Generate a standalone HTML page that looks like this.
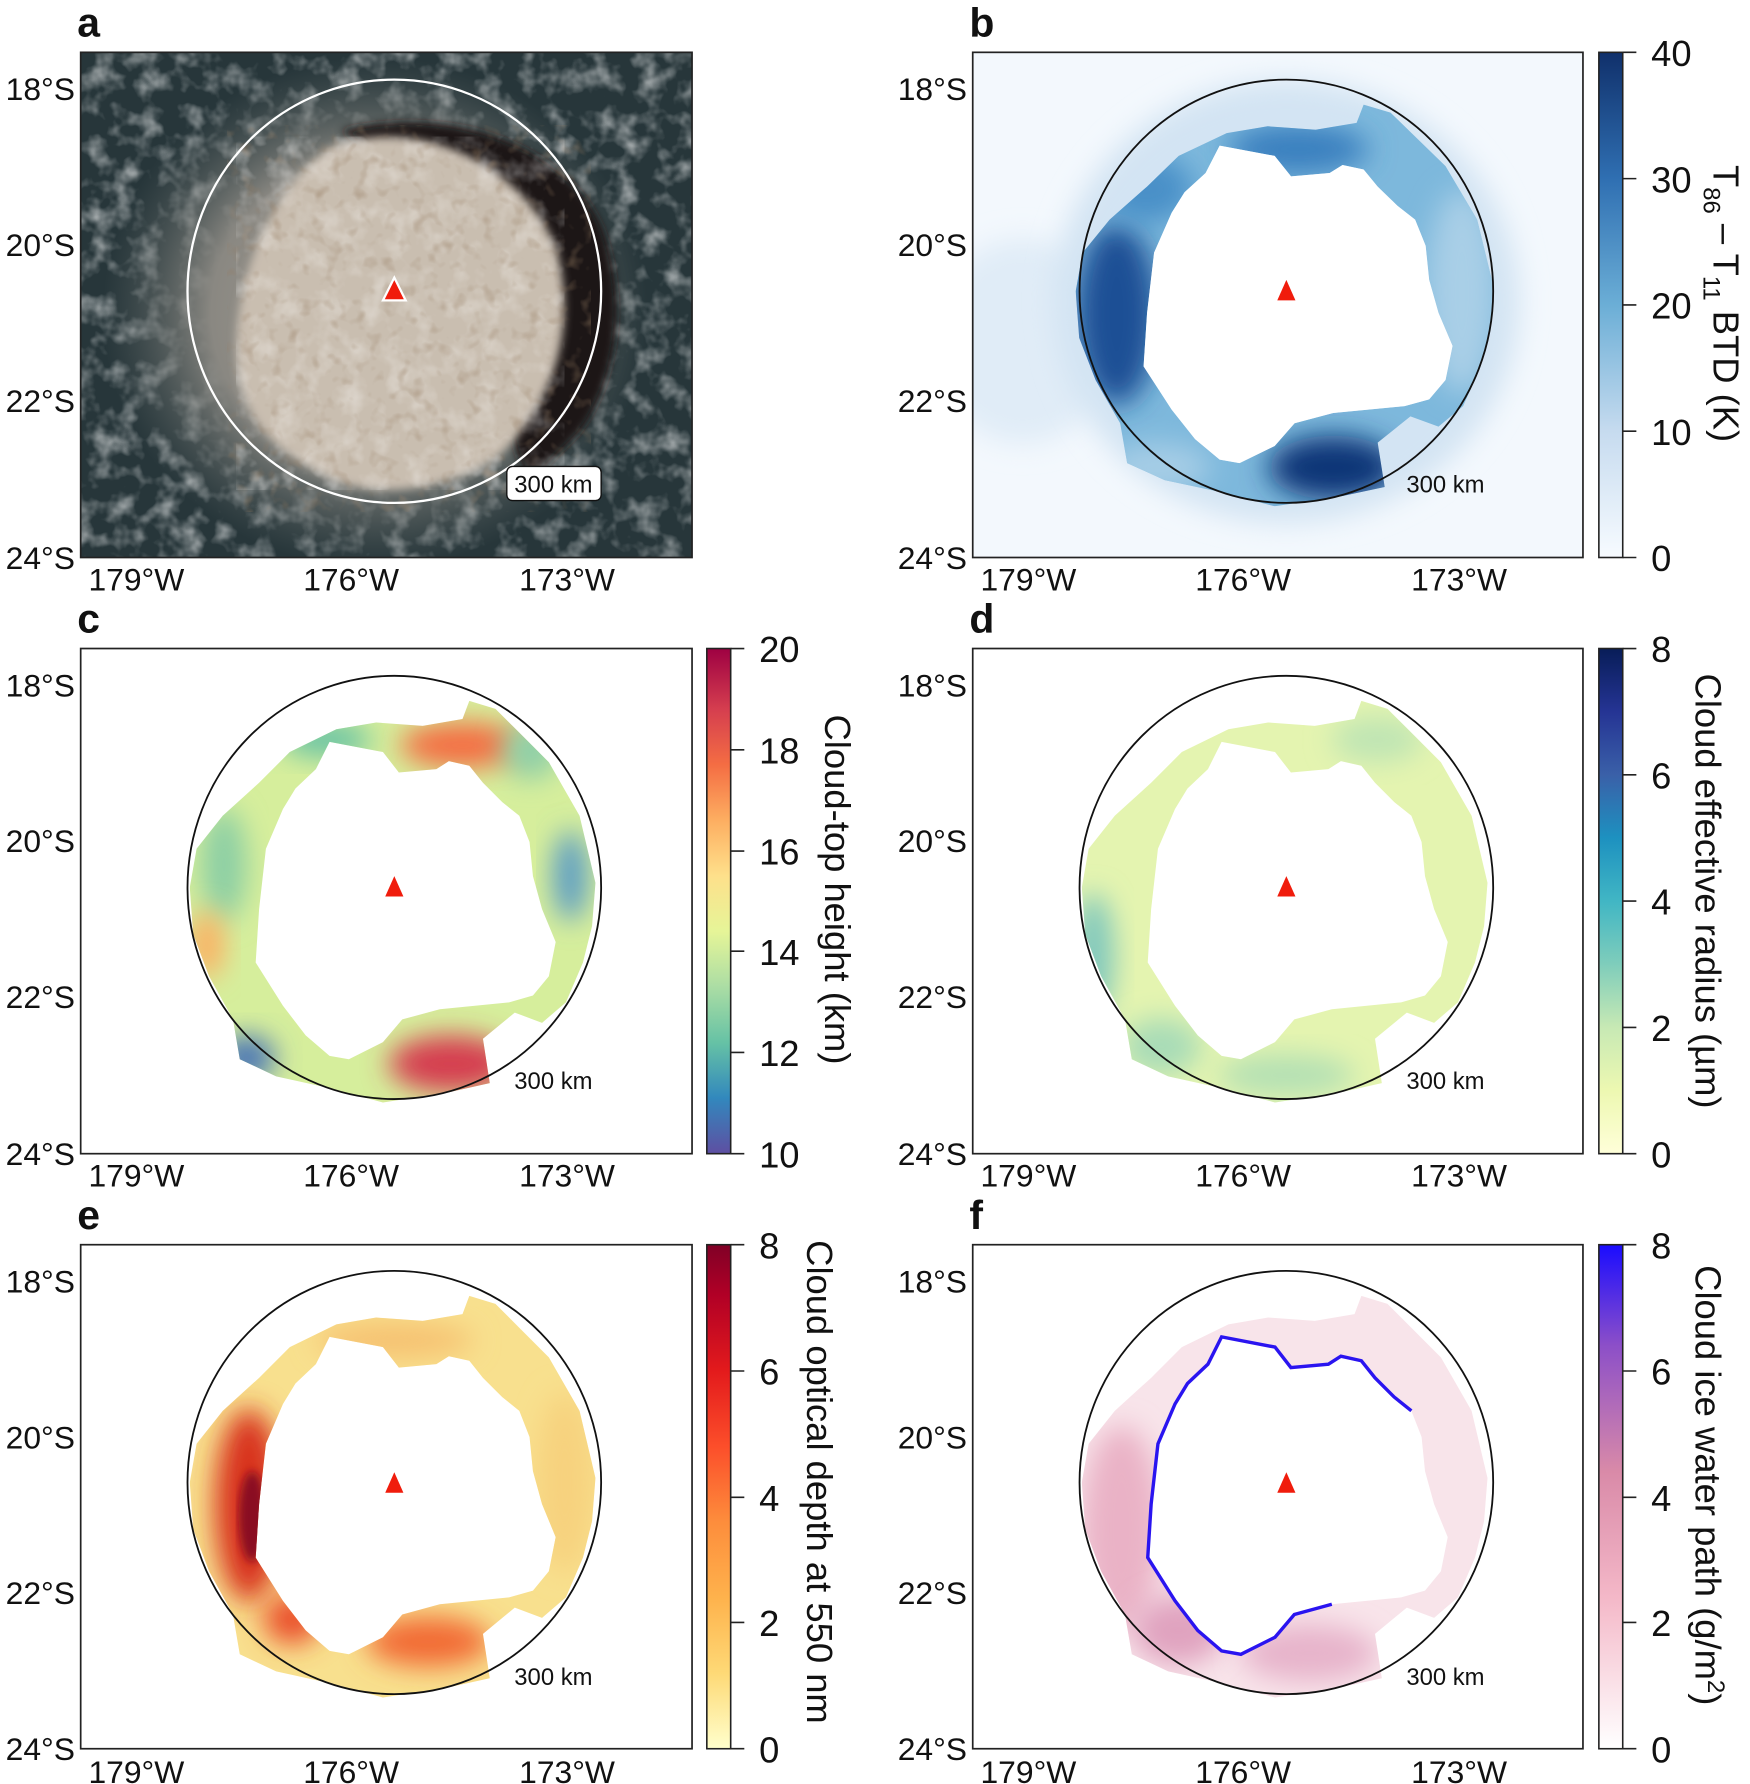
<!DOCTYPE html>
<html><head><meta charset="utf-8"><style>
html,body{margin:0;padding:0;background:#fff}
svg{display:block}
text{font-family:"Liberation Sans",sans-serif;fill:#111}
</style></head><body>
<svg width="1750" height="1784" viewBox="0 0 1540 1568" preserveAspectRatio="none" xmlns="http://www.w3.org/2000/svg">
<defs>
<clipPath id="ring"><path clip-rule="evenodd" d="M-180,0 L-174,-34 L-151,-63 L-119,-92 L-92,-119 L-51,-139 L-16,-145 L25,-142 L60,-148 L66,-164 L89,-157 L107,-139 L136,-110 L163,-63 L177,-4 L174,34 L166,66 L151,101 L130,119 L106,110 L78,133 L84,172 L48,180 L-10,189 L-54,177 L-104,166 L-136,151 L-142,116 L-163,78 L-177,41 Z M-57,-128 L-10,-119 L4,-101 L37,-104 L48,-111 L66,-107 L78,-92 L95,-75 L110,-63 L119,-40 L122,-10 L130,19 L142,48 L136,78 L122,95 L101,101 L40,107 L7,116 L-10,136 L-40,151 L-57,148 L-78,130 L-98,104 L-122,66 L-119,19 L-113,-34 L-98,-69 L-87,-87 L-69,-104 Z"/></clipPath>
<clipPath id="hole"><path d="M-57,-128 L-10,-119 L4,-101 L37,-104 L48,-111 L66,-107 L78,-92 L95,-75 L110,-63 L119,-40 L122,-10 L130,19 L142,48 L136,78 L122,95 L101,101 L40,107 L7,116 L-10,136 L-40,151 L-57,148 L-78,130 L-98,104 L-122,66 L-119,19 L-113,-34 L-98,-69 L-87,-87 L-69,-104 Z"/></clipPath>
<filter id="bl" x="-50%" y="-50%" width="200%" height="200%"><feGaussianBlur stdDeviation="12"/></filter>
<filter id="bl4"><feGaussianBlur stdDeviation="4"/></filter>
<filter id="noise" x="0" y="0" width="100%" height="100%"><feTurbulence type="fractalNoise" baseFrequency="0.05" numOctaves="3" seed="3"/><feColorMatrix values="0 0 0 0 1  0 0 0 0 1  0 0 0 0 1  1.8 0 0 0 -0.8"/></filter>
<filter id="noise2" x="0" y="0" width="100%" height="100%"><feTurbulence type="fractalNoise" baseFrequency="0.08" numOctaves="2" seed="7"/><feColorMatrix values="0 0 0 0 0.3  0 0 0 0 0.2  0 0 0 0 0.12  2 0 0 0 -1.1"/></filter>
<clipPath id="boxa"><rect x="71" y="46" width="538" height="444"/></clipPath>
<clipPath id="boxb"><rect x="856" y="46" width="537" height="444"/></clipPath>
<linearGradient id="gB" x1="0" y1="1" x2="0" y2="0"><stop offset="0" stop-color="#f7fbff"/><stop offset=".25" stop-color="#c6dbef"/><stop offset=".5" stop-color="#6baed6"/><stop offset=".75" stop-color="#2f6fb2"/><stop offset="1" stop-color="#10306b"/></linearGradient>
<linearGradient id="gC" x1="0" y1="1" x2="0" y2="0"><stop offset="0" stop-color="#5e4fa2"/><stop offset=".11" stop-color="#3288bd"/><stop offset=".22" stop-color="#66c2a5"/><stop offset=".33" stop-color="#abdda4"/><stop offset=".44" stop-color="#e6f598"/><stop offset=".55" stop-color="#fee08b"/><stop offset=".66" stop-color="#fdae61"/><stop offset=".77" stop-color="#f46d43"/><stop offset=".88" stop-color="#d53e4f"/><stop offset="1" stop-color="#9e0142"/></linearGradient>
<linearGradient id="gD" x1="0" y1="1" x2="0" y2="0"><stop offset="0" stop-color="#ffffd9"/><stop offset=".125" stop-color="#edf8b1"/><stop offset=".25" stop-color="#c7e9b4"/><stop offset=".375" stop-color="#7fcdbb"/><stop offset=".5" stop-color="#41b6c4"/><stop offset=".625" stop-color="#1d91c0"/><stop offset=".75" stop-color="#3a60a8"/><stop offset=".875" stop-color="#253494"/><stop offset="1" stop-color="#081d58"/></linearGradient>
<linearGradient id="gE" x1="0" y1="1" x2="0" y2="0"><stop offset="0" stop-color="#ffffcc"/><stop offset=".15" stop-color="#fed976"/><stop offset=".3" stop-color="#feb24c"/><stop offset=".45" stop-color="#fd8d3c"/><stop offset=".6" stop-color="#fc4e2a"/><stop offset=".75" stop-color="#e31a1c"/><stop offset=".9" stop-color="#b10026"/><stop offset="1" stop-color="#800026"/></linearGradient>
<linearGradient id="gF" x1="0" y1="1" x2="0" y2="0"><stop offset="0" stop-color="#ffffff"/><stop offset=".3" stop-color="#f4b8c8"/><stop offset=".55" stop-color="#d98aa8"/><stop offset=".8" stop-color="#8c4fc8"/><stop offset="1" stop-color="#1a0cff"/></linearGradient>
<radialGradient id="haze"><stop offset="0" stop-color="#a49c92"/><stop offset=".6" stop-color="#8a8882"/><stop offset="1" stop-color="#5a6464" stop-opacity="0"/></radialGradient>
</defs>

<!-- ========== Panel a ========== -->
<g clip-path="url(#boxa)">
<rect x="71" y="46" width="538" height="444" fill="#27363a"/>
<rect x="71" y="46" width="538" height="444" filter="url(#noise)" opacity=".7"/>
<ellipse cx="330" cy="275" rx="240" ry="225" fill="url(#haze)"/>
<path d="M300,115 C400,90 500,130 530,200 C555,270 540,340 510,380 L470,420 C440,400 450,330 470,300 C480,230 450,160 330,135 Z" fill="#1a1412" filter="url(#bl4)"/>
<path d="M290,130 C360,100 460,140 490,220 C510,300 480,360 440,400 C400,430 330,440 290,420 C250,400 220,380 210,330 C200,270 230,170 290,130 Z" fill="#c9beb0" filter="url(#bl4)"/>
<g clip-path="url(#boxa)"><path d="M290,130 C360,100 460,140 490,220 C510,300 480,360 440,400 C400,430 330,440 290,420 C250,400 220,380 210,330 C200,270 230,170 290,130 Z" fill="#fff" filter="url(#noise)" opacity=".4"/></g>
<rect x="200" y="110" width="320" height="340" filter="url(#noise2)" opacity=".6"/>
</g>
<rect x="71" y="46" width="538" height="444" fill="none" stroke="#222" stroke-width="1.5"/>
<ellipse cx="347" cy="256" rx="182" ry="186" fill="none" stroke="#fff" stroke-width="2"/>
<polygon points="347,244 337,264 357,264" fill="#f01c0c" stroke="#fff" stroke-width="2"/>
<rect x="446" y="410" width="83" height="30" rx="5" fill="#fff" stroke="#111" stroke-width="1.2"/>
<text x="487" y="433" font-size="21" text-anchor="middle">300 km</text>

<!-- ========== Panel b ========== -->
<g clip-path="url(#boxb)">
<rect x="856" y="46" width="537" height="444" fill="#f3f8fd"/>
<ellipse cx="900" cy="300" rx="80" ry="90" fill="#e0ecf7" filter="url(#bl)"/>
<ellipse cx="1132" cy="265" rx="205" ry="195" fill="#d3e4f3" filter="url(#bl)"/>
<g transform="translate(1132,256) scale(1.03,1.0)">
<g clip-path="url(#ring)">
<rect x="-200" y="-200" width="400" height="400" fill="#7db8dc"/>
<ellipse cx="-145" cy="20" rx="35" ry="80" fill="#1d4f95" filter="url(#bl)"/>
<ellipse cx="40" cy="155" rx="55" ry="28" fill="#0f3577" filter="url(#bl)"/>
<ellipse cx="10" cy="-125" rx="60" ry="22" fill="#3a80bf" filter="url(#bl)"/>
<ellipse cx="150" cy="0" rx="30" ry="90" fill="#a9cfe7" filter="url(#bl)"/>
<ellipse cx="-110" cy="155" rx="45" ry="22" fill="#a6cde6" filter="url(#bl)"/>
<ellipse cx="-120" cy="-90" rx="40" ry="30" fill="#4a90c8" filter="url(#bl)"/>
</g>
<g clip-path="url(#hole)"><rect x="-200" y="-200" width="400" height="400" fill="#fff"/></g>
</g>
</g>
<rect x="856" y="46" width="537" height="444" fill="none" stroke="#222" stroke-width="1.5"/>
<ellipse cx="1132" cy="256" rx="182" ry="186" fill="none" stroke="#111" stroke-width="1.6"/>
<polygon points="1132,246 1124,264 1140,264" fill="#f01c0c"/>
<text x="1272" y="433" font-size="21" text-anchor="middle">300 km</text>

<!-- ========== Panels c-f rings ========== -->
<g transform="translate(347,780)"><g clip-path="url(#ring)">
<rect x="-200" y="-200" width="400" height="400" fill="#d6ee9c"/>
<ellipse cx="60" cy="-125" rx="55" ry="20" fill="#f46d43" filter="url(#bl)"/>
<ellipse cx="50" cy="155" rx="55" ry="25" fill="#d53e4f" filter="url(#bl)"/>
<ellipse cx="-60" cy="-130" rx="40" ry="15" fill="#66c2a5" filter="url(#bl)"/>
<ellipse cx="-150" cy="-20" rx="20" ry="50" fill="#8ccfa4" filter="url(#bl)"/>
<ellipse cx="155" cy="-10" rx="15" ry="40" fill="#5a9bc5" filter="url(#bl)"/>
<ellipse cx="-165" cy="50" rx="15" ry="30" fill="#fdae61" filter="url(#bl)"/>
<ellipse cx="-130" cy="150" rx="25" ry="20" fill="#4a75b5" filter="url(#bl)"/>
<ellipse cx="120" cy="-120" rx="25" ry="25" fill="#8fd0a8" filter="url(#bl)"/>
</g></g>
<g transform="translate(1132,780)"><g clip-path="url(#ring)">
<rect x="-200" y="-200" width="400" height="400" fill="#e4f4b0"/>
<ellipse cx="-170" cy="60" rx="18" ry="55" fill="#7fc7bd" filter="url(#bl)"/>
<ellipse cx="-110" cy="140" rx="35" ry="25" fill="#a8dcb7" filter="url(#bl)"/>
<ellipse cx="0" cy="165" rx="60" ry="18" fill="#b3e0b4" filter="url(#bl)"/>
<ellipse cx="80" cy="-130" rx="40" ry="20" fill="#bfe5b4" filter="url(#bl)"/>
</g></g>
<g transform="translate(347,1303)"><g clip-path="url(#ring)">
<rect x="-200" y="-200" width="400" height="400" fill="#f8e08e"/>
<ellipse cx="-128" cy="20" rx="30" ry="85" fill="#d8331f" filter="url(#bl)"/>
<ellipse cx="-125" cy="30" rx="12" ry="40" fill="#8a0d23" filter="url(#bl4)"/>
<ellipse cx="30" cy="140" rx="55" ry="22" fill="#f26a35" filter="url(#bl)"/>
<ellipse cx="-90" cy="120" rx="25" ry="22" fill="#ea4d2c" filter="url(#bl)"/>
<ellipse cx="0" cy="-125" rx="70" ry="15" fill="#f6c070" filter="url(#bl)"/>
<ellipse cx="150" cy="0" rx="25" ry="80" fill="#f7d27e" filter="url(#bl)"/>
</g></g>
<g transform="translate(1132,1303)"><g clip-path="url(#ring)">
<rect x="-200" y="-200" width="400" height="400" fill="#f8e4ea"/>
<ellipse cx="-145" cy="40" rx="35" ry="90" fill="#eab2c6" filter="url(#bl)"/>
<ellipse cx="-95" cy="130" rx="40" ry="30" fill="#e0a3bf" filter="url(#bl)"/>
<ellipse cx="20" cy="150" rx="60" ry="25" fill="#e7b4cb" filter="url(#bl)"/>
</g>
<path d="M110,-63 L95,-75 L78,-92 L66,-107 L48,-111 L37,-104 L4,-101 L-10,-119 L-57,-128 L-69,-104 L-87,-87 L-98,-69 L-113,-34 L-119,19 L-122,66 L-98,104 L-78,130 L-57,148 L-40,151 L-10,136 L7,116 L40,107" fill="none" stroke="#2a14f0" stroke-width="3"/>
</g>

<g fill="none" stroke="#222" stroke-width="1.5">
<rect x="71" y="570" width="538" height="444"/><rect x="856" y="570" width="537" height="444"/>
<rect x="71" y="1094" width="538" height="443"/><rect x="856" y="1094" width="537" height="443"/>
</g>
<g fill="none" stroke="#111" stroke-width="1.6">
<ellipse cx="347" cy="780" rx="182" ry="186"/><ellipse cx="1132" cy="780" rx="182" ry="186"/>
<ellipse cx="347" cy="1303" rx="182" ry="186"/><ellipse cx="1132" cy="1303" rx="182" ry="186"/>
</g>
<g fill="#f01c0c">
<polygon points="347,770 339,788 355,788"/><polygon points="1132,770 1124,788 1140,788"/>
<polygon points="347,1294 339,1312 355,1312"/><polygon points="1132,1294 1124,1312 1140,1312"/>
</g>
<g font-size="21" text-anchor="middle">
<text x="487" y="957">300 km</text><text x="1272" y="957">300 km</text>
<text x="487" y="1481">300 km</text><text x="1272" y="1481">300 km</text>
</g>

<g font-size="28" text-anchor="end">
<text x="66" y="88">18°S</text><text x="66" y="225">20°S</text><text x="66" y="362">22°S</text><text x="66" y="500">24°S</text>
<text x="851" y="88">18°S</text><text x="851" y="225">20°S</text><text x="851" y="362">22°S</text><text x="851" y="500">24°S</text>
<text x="66" y="612">18°S</text><text x="66" y="749">20°S</text><text x="66" y="886">22°S</text><text x="66" y="1024">24°S</text>
<text x="851" y="612">18°S</text><text x="851" y="749">20°S</text><text x="851" y="886">22°S</text><text x="851" y="1024">24°S</text>
<text x="66" y="1136">18°S</text><text x="66" y="1273">20°S</text><text x="66" y="1410">22°S</text><text x="66" y="1547">24°S</text>
<text x="851" y="1136">18°S</text><text x="851" y="1273">20°S</text><text x="851" y="1410">22°S</text><text x="851" y="1547">24°S</text>
</g>
<g font-size="28" text-anchor="middle">
<text x="120" y="519">179°W</text><text x="309" y="519">176°W</text><text x="499" y="519">173°W</text>
<text x="905" y="519">179°W</text><text x="1094" y="519">176°W</text><text x="1284" y="519">173°W</text>
<text x="120" y="1043">179°W</text><text x="309" y="1043">176°W</text><text x="499" y="1043">173°W</text>
<text x="905" y="1043">179°W</text><text x="1094" y="1043">176°W</text><text x="1284" y="1043">173°W</text>
<text x="120" y="1567">179°W</text><text x="309" y="1567">176°W</text><text x="499" y="1567">173°W</text>
<text x="905" y="1567">179°W</text><text x="1094" y="1567">176°W</text><text x="1284" y="1567">173°W</text>
</g>

<g font-size="36" font-weight="bold">
<text x="68" y="32">a</text><text x="853" y="32">b</text>
<text x="68" y="556">c</text><text x="853" y="556">d</text>
<text x="68" y="1080">e</text><text x="853" y="1080">f</text>
</g>

<g stroke="#222" stroke-width="1.4">
<rect x="1407" y="46" width="21" height="444" fill="url(#gB)"/>
<rect x="622" y="570" width="21" height="444" fill="url(#gC)"/>
<rect x="1407" y="570" width="21" height="444" fill="url(#gD)"/>
<rect x="622" y="1094" width="21" height="443" fill="url(#gE)"/>
<rect x="1407" y="1094" width="21" height="443" fill="url(#gF)"/>
<path d="M1428,46h12M1428,157h12M1428,268h12M1428,379h12M1428,490h12"/>
<path d="M643,570h12M643,659h12M643,748h12M643,836h12M643,925h12M643,1014h12"/>
<path d="M1428,570h12M1428,681h12M1428,792h12M1428,903h12M1428,1014h12"/>
<path d="M643,1094h12M643,1205h12M643,1316h12M643,1426h12M643,1537h12"/>
<path d="M1428,1094h12M1428,1205h12M1428,1316h12M1428,1426h12M1428,1537h12"/>
</g>
<g font-size="32">
<text x="1453" y="58">40</text><text x="1453" y="169">30</text><text x="1453" y="280">20</text><text x="1453" y="391">10</text><text x="1453" y="502">0</text>
<text x="668" y="582">20</text><text x="668" y="671">18</text><text x="668" y="760">16</text><text x="668" y="848">14</text><text x="668" y="937">12</text><text x="668" y="1026">10</text>
<text x="1453" y="582">8</text><text x="1453" y="693">6</text><text x="1453" y="804">4</text><text x="1453" y="915">2</text><text x="1453" y="1026">0</text>
<text x="668" y="1106">8</text><text x="668" y="1217">6</text><text x="668" y="1328">4</text><text x="668" y="1438">2</text><text x="668" y="1549">0</text>
<text x="1453" y="1106">8</text><text x="1453" y="1217">6</text><text x="1453" y="1328">4</text><text x="1453" y="1438">2</text><text x="1453" y="1549">0</text>
</g>
<g font-size="32">
<text transform="translate(1508,145) rotate(90)">T<tspan font-size="21" dy="9">86</tspan><tspan dy="-9"> – T</tspan><tspan font-size="21" dy="9">11</tspan><tspan dy="-9"> BTD (K)</tspan></text>
<text transform="translate(726,628) rotate(90)">Cloud-top height (km)</text>
<text transform="translate(1492,592) rotate(90)">Cloud effective radius (µm)</text>
<text transform="translate(710,1090) rotate(90)">Cloud optical depth at 550 nm</text>
<text transform="translate(1492,1112) rotate(90)">Cloud ice water path (g/m<tspan font-size="21" dy="-11">2</tspan><tspan dy="11">)</tspan></text>
</g>
</svg>
</body></html>
